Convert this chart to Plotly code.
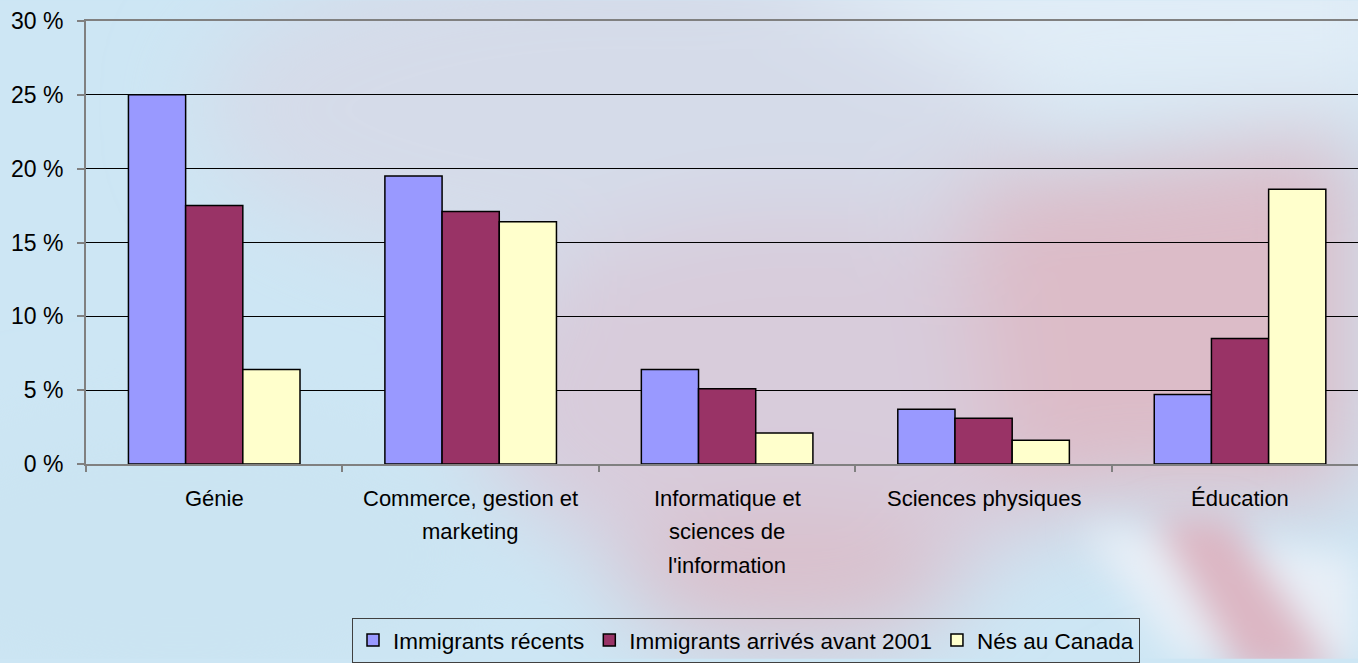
import base64
import plotly.graph_objects as go

# ---- data ----
categories = ["Génie", "Commerce, gestion et marketing",
              "Informatique et sciences de l'information",
              "Sciences physiques", "Éducation"]
category_lines = [["Génie"], ["Commerce, gestion et", "marketing"],
                  ["Informatique et", "sciences de", "l'information"],
                  ["Sciences physiques"], ["Éducation"]]
series_names = ["Immigrants récents", "Immigrants arrivés avant 2001", "Nés au Canada"]
recent = [25.0, 19.5, 6.4, 3.7, 4.7]
before_2001 = [17.5, 17.1, 5.1, 3.1, 8.5]
born_canada = [6.4, 16.4, 2.1, 1.6, 18.6]
y_ticks = [0, 5, 10, 15, 20, 25, 30]
y_tick_labels = ["0 %", "5 %", "10 %", "15 %", "20 %", "25 %", "30 %"]

colors = ["#9999FF", "#993366", "#FFFFCC"]
FONT = "Arial, Liberation Sans, sans-serif"

# ---- blurred background (approximation of the photo behind the chart) ----
svg = """<svg xmlns="http://www.w3.org/2000/svg" width="1358" height="663" viewBox="0 0 1358 663" preserveAspectRatio="none">
<defs>
<filter id="b" x="-30%" y="-30%" width="160%" height="160%"><feGaussianBlur stdDeviation="45"/></filter>
<filter id="s" x="-30%" y="-30%" width="160%" height="160%"><feGaussianBlur stdDeviation="18"/></filter>
</defs>
<rect width="1358" height="663" fill="#cde6f4"/>
<g filter="url(#b)">
<ellipse cx="620" cy="110" rx="420" ry="170" fill="#d5dbe9"/>
<ellipse cx="800" cy="400" rx="330" ry="190" fill="#d8ccdb"/>
<path d="M960,180 L1358,130 L1358,500 L1000,500 Z" fill="#dcbcc8"/>
<ellipse cx="790" cy="580" rx="170" ry="70" fill="#d9c0cc"/>
<path d="M720,-60 L1420,-60 L1420,100 L1050,110 Z" fill="#e1edf7"/>
<ellipse cx="180" cy="560" rx="300" ry="140" fill="#cbe4f2"/>
</g>
<g filter="url(#s)">
<path d="M1080,530 L1358,560 L1358,663 L1180,663 Z" fill="#e8eff7"/>
<path d="M1150,520 L1230,520 L1340,680 L1240,680 Z" fill="#dcb6c3"/>
</g>
</svg>"""
bg_uri = "data:image/svg+xml;base64," + base64.b64encode(svg.encode("utf-8")).decode("ascii")

fig = go.Figure()
for name, vals, col in zip(series_names, [recent, before_2001, born_canada], colors):
    fig.add_trace(go.Bar(
        x=categories, y=vals, name=name,
        marker=dict(color=col, line=dict(color="black", width=1.5)),
    ))

W, H = 1358, 663
ML, MR, MT, MB = 86, 0, 21, 196
pw, ph = W - ML - MR, H - MT - MB

annotations = []
for cat, lines in zip(categories, category_lines):
    for i, line in enumerate(lines):
        annotations.append(dict(
            x=cat, xref="x", y=0, yref="paper", yanchor="middle", xanchor="center",
            yshift=-(34.5 + 33.4 * i), text=line, showarrow=False,
            font=dict(family=FONT, size=22, color="black"),
        ))

fig.update_layout(
    width=W, height=H,
    margin=dict(l=ML, r=MR, t=MT, b=MB, pad=0),
    paper_bgcolor="#cde6f4",
    plot_bgcolor="rgba(0,0,0,0)",
    barmode="group", bargap=0.331, bargroupgap=0,
    font=dict(family=FONT, size=22, color="black"),
    showlegend=True,
    legend=dict(
        orientation="h", x=(352 - ML) / pw, xanchor="left",
        y=-(622 - (H - MB)) / ph, yanchor="top",
        bgcolor="rgba(0,0,0,0)", bordercolor="#404040", borderwidth=1,
        font=dict(family=FONT, size=22.5, color="black"),
        traceorder="normal",
    ),
    annotations=annotations,
    images=[dict(
        source=bg_uri, xref="paper", yref="paper",
        x=-ML / pw, y=1 + MT / ph, sizex=W / pw, sizey=H / ph,
        xanchor="left", yanchor="top", sizing="stretch", layer="below",
    )],
    xaxis=dict(
        type="category", range=[-0.5, 4.46],
        showline=True, mirror=True, linecolor="#808080", linewidth=2,
        ticks="outside", tickson="boundaries", ticklen=6, tickwidth=2, tickcolor="#808080",
        showticklabels=False, showgrid=False, zeroline=False, fixedrange=True,
    ),
    yaxis=dict(
        range=[0, 30], tickmode="array", tickvals=y_ticks, ticktext=y_tick_labels,
        showline=True, linecolor="#808080", linewidth=2,
        ticks="outside", ticklen=7, tickwidth=2, tickcolor="#808080",
        showgrid=True, gridcolor="black", gridwidth=1, zeroline=False,
        ticklabelstandoff=9,
        tickfont=dict(family=FONT, size=23, color="black"),
    ),
)

fig.write_html("out.html", post_script="document.body.style.margin='0';document.body.style.overflow='hidden';",
               config={"displayModeBar": False})
